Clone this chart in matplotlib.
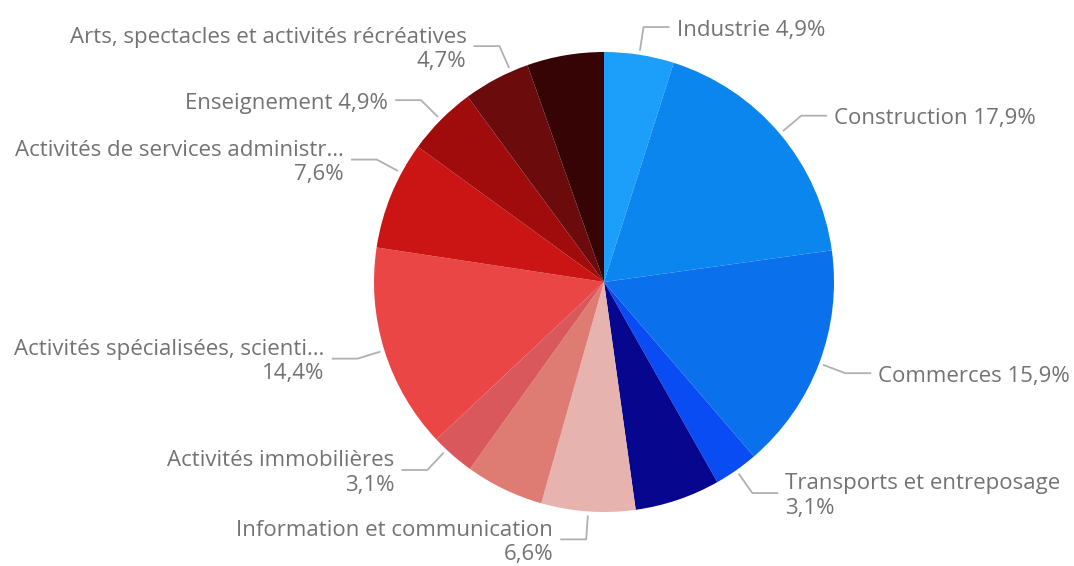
import numpy as np
import matplotlib
matplotlib.use("Agg")
import matplotlib.pyplot as plt

# share of establishments by sector (%), clockwise from 12 o'clock
sectors = ["Industrie", "Construction", "Commerces", "Transports et entreposage",
           "Hébergement et restauration", "Information et communication",
           "Activités financières et d'assurance", "Activités immobilières",
           "Activités spécialisées, scientifiques et techniques",
           "Activités de services administratifs et de soutien",
           "Enseignement", "Arts, spectacles et activités récréatives",
           "Autres activités de services"]
shares = [4.9, 17.9, 15.9, 3.1, 6.0, 6.6, 5.5, 3.1, 14.4, 7.6, 4.9, 4.7, 5.4]
# text shown on the chart (None = label hidden)
shown = ["Industrie", "Construction", "Commerces", "Transports et entreposage",
         None, "Information et communication", None, "Activités immobilières",
         "Activités spécialisées, scienti…", "Activités de services administr…",
         "Enseignement", "Arts, spectacles et activités récréatives", None]
colors = ["#1c9ffa", "#0a86ee", "#0b70ec", "#0a4cf4", "#06068e", "#e6b3ae",
          "#de7b72", "#d9585c", "#ea4646", "#cb1414", "#a00c0c", "#6c0b0b",
          "#360404"]

# label layout: two-line labels and small leader angle nudges (deg, clockwise)
two_lines = {3, 5, 7, 8, 9, 11}
nudge = {7: 2, 9: 6, 11: 4}

W, H = 1074, 566
fig = plt.figure(figsize=(W / 100, H / 100), dpi=100)
ax = fig.add_axes([0, 0, 1, 1])

cx, cy, r = 604, H - 282, 230
wedges, _ = ax.pie(shares, colors=colors, startangle=90, counterclock=False,
                   center=(cx, cy), radius=r, wedgeprops=dict(linewidth=0))
ax.set_xlim(0, W)
ax.set_ylim(0, H)
ax.axis("off")

txt_color = "#737373"
line_color = "#b0b0b0"

for i, w in enumerate(wedges):
    if shown[i] is None:
        continue
    mid = np.deg2rad((w.theta1 + w.theta2) / 2 - nudge.get(i, 0))
    dx, dy = np.cos(mid), np.sin(mid)
    x0, y0 = cx + (r + 5) * dx, cy + (r + 5) * dy
    x1, y1 = cx + (r + 28) * dx, cy + (r + 28) * dy
    side = 1 if dx >= 0 else -1
    x2 = x1 + side * 25
    ax.plot([x0, x1, x2], [y0, y1, y1], color=line_color, lw=1.3,
            solid_joinstyle="round")
    pct = f"{shares[i]:.1f}%".replace(".", ",")
    sep = "\n" if i in two_lines else " "
    ax.text(x2 + side * 8, y1 - 3, shown[i] + sep + pct,
            ha="left" if side > 0 else "right",
            multialignment="left" if side > 0 else "right",
            va="center", fontsize=16, color=txt_color,
            family=["Open Sans", "DejaVu Sans"], linespacing=1.2)

fig.savefig("out.png", dpi=100)
